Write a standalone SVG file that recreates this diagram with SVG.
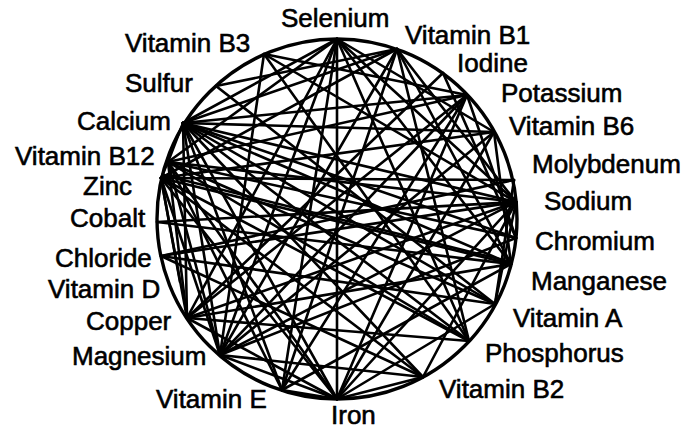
<svg xmlns="http://www.w3.org/2000/svg" width="686" height="430" viewBox="0 0 686 430">
<style>
.lbl{font-family:"Liberation Sans",Arial,sans-serif;font-size:26px;fill:#000;stroke:#000;stroke-width:0.6}
.c line{stroke:#000;stroke-width:2.6;stroke-linecap:round}
.ring{fill:none;stroke:#000;stroke-width:3.4}
</style>
<rect width="686" height="430" fill="#fff"/>
<circle class="ring" cx="337" cy="219" r="180"/>
<g id="connectors" class="c">
<line x1="337" y1="39" x2="337" y2="399"/>
<line x1="337" y1="39" x2="183" y2="123"/>
<line x1="337" y1="39" x2="168" y2="162"/>
<line x1="337" y1="39" x2="220" y2="355"/>
<line x1="337" y1="39" x2="282" y2="390"/>
<line x1="337" y1="39" x2="511" y2="264"/>
<line x1="337" y1="39" x2="516" y2="202"/>
<line x1="337" y1="39" x2="494" y2="132"/>
<line x1="337" y1="39" x2="469" y2="341"/>
<line x1="337" y1="39" x2="187" y2="318"/>
<line x1="397" y1="49" x2="183" y2="123"/>
<line x1="397" y1="49" x2="161" y2="178"/>
<line x1="397" y1="49" x2="511" y2="264"/>
<line x1="397" y1="49" x2="469" y2="341"/>
<line x1="397" y1="49" x2="220" y2="355"/>
<line x1="397" y1="49" x2="282" y2="390"/>
<line x1="397" y1="49" x2="516" y2="202"/>
<line x1="397" y1="49" x2="216" y2="86"/>
<line x1="443" y1="73" x2="187" y2="318"/>
<line x1="443" y1="73" x2="516" y2="238"/>
<line x1="467" y1="95" x2="183" y2="123"/>
<line x1="467" y1="95" x2="168" y2="162"/>
<line x1="467" y1="95" x2="187" y2="318"/>
<line x1="467" y1="95" x2="220" y2="355"/>
<line x1="467" y1="95" x2="337" y2="399"/>
<line x1="467" y1="95" x2="516" y2="238"/>
<line x1="467" y1="95" x2="264" y2="54"/>
<line x1="494" y1="132" x2="183" y2="123"/>
<line x1="494" y1="132" x2="161" y2="178"/>
<line x1="494" y1="132" x2="220" y2="355"/>
<line x1="494" y1="132" x2="511" y2="264"/>
<line x1="494" y1="132" x2="337" y2="399"/>
<line x1="514" y1="180" x2="161" y2="256"/>
<line x1="514" y1="180" x2="161" y2="178"/>
<line x1="514" y1="180" x2="495" y2="304"/>
<line x1="516" y1="202" x2="183" y2="123"/>
<line x1="516" y1="202" x2="168" y2="162"/>
<line x1="516" y1="202" x2="157" y2="222"/>
<line x1="516" y1="202" x2="161" y2="256"/>
<line x1="516" y1="202" x2="220" y2="355"/>
<line x1="516" y1="202" x2="264" y2="54"/>
<line x1="516" y1="202" x2="423" y2="377"/>
<line x1="516" y1="202" x2="187" y2="318"/>
<line x1="516" y1="238" x2="168" y2="162"/>
<line x1="516" y1="238" x2="183" y2="123"/>
<line x1="516" y1="238" x2="220" y2="355"/>
<line x1="511" y1="264" x2="161" y2="178"/>
<line x1="511" y1="262" x2="163" y2="175"/>
<line x1="511" y1="264" x2="183" y2="123"/>
<line x1="511" y1="264" x2="157" y2="222"/>
<line x1="511" y1="264" x2="187" y2="318"/>
<line x1="511" y1="264" x2="282" y2="390"/>
<line x1="495" y1="304" x2="183" y2="123"/>
<line x1="495" y1="304" x2="168" y2="162"/>
<line x1="495" y1="304" x2="161" y2="256"/>
<line x1="495" y1="304" x2="337" y2="399"/>
<line x1="495" y1="304" x2="516" y2="202"/>
<line x1="495" y1="304" x2="216" y2="86"/>
<line x1="469" y1="341" x2="183" y2="123"/>
<line x1="469" y1="341" x2="187" y2="318"/>
<line x1="469" y1="341" x2="168" y2="162"/>
<line x1="469" y1="341" x2="161" y2="178"/>
<line x1="469" y1="341" x2="264" y2="54"/>
<line x1="423" y1="377" x2="161" y2="178"/>
<line x1="423" y1="377" x2="183" y2="123"/>
<line x1="423" y1="377" x2="161" y2="256"/>
<line x1="423" y1="377" x2="220" y2="355"/>
<line x1="423" y1="377" x2="337" y2="399"/>
<line x1="337" y1="399" x2="183" y2="123"/>
<line x1="337" y1="399" x2="168" y2="162"/>
<line x1="337" y1="399" x2="161" y2="178"/>
<line x1="337" y1="399" x2="187" y2="318"/>
<line x1="337" y1="399" x2="220" y2="355"/>
<line x1="337" y1="399" x2="282" y2="390"/>
<line x1="337" y1="399" x2="516" y2="202"/>
<line x1="282" y1="390" x2="183" y2="123"/>
<line x1="282" y1="390" x2="168" y2="162"/>
<line x1="282" y1="390" x2="467" y2="95"/>
<line x1="220" y1="355" x2="183" y2="123"/>
<line x1="220" y1="355" x2="168" y2="162"/>
<line x1="220" y1="355" x2="161" y2="178"/>
<line x1="187" y1="318" x2="168" y2="162"/>
<line x1="187" y1="318" x2="183" y2="123"/>
<line x1="187" y1="318" x2="161" y2="178"/>
<line x1="180" y1="282" x2="161" y2="178"/>
<line x1="264" y1="54" x2="220" y2="355"/>
<line x1="183" y1="123" x2="168" y2="162"/>
<line x1="168" y1="162" x2="161" y2="178"/>
</g>
<g id="node-selenium"><text class="lbl" x="281" y="27">Selenium</text></g>
<g id="node-vitamin-b1"><text class="lbl" x="405" y="44">Vitamin B1</text></g>
<g id="node-iodine"><text class="lbl" x="457" y="72">Iodine</text></g>
<g id="node-potassium"><text class="lbl" x="501" y="102">Potassium</text></g>
<g id="node-vitamin-b6"><text class="lbl" x="509" y="135">Vitamin B6</text></g>
<g id="node-molybdenum"><text class="lbl" x="532" y="173">Molybdenum</text></g>
<g id="node-sodium"><text class="lbl" x="544" y="210">Sodium</text></g>
<g id="node-chromium"><text class="lbl" x="535" y="250">Chromium</text></g>
<g id="node-manganese"><text class="lbl" x="531" y="290">Manganese</text></g>
<g id="node-vitamin-a"><text class="lbl" x="513" y="327">Vitamin A</text></g>
<g id="node-phosphorus"><text class="lbl" x="485" y="362">Phosphorus</text></g>
<g id="node-vitamin-b2"><text class="lbl" x="439" y="398">Vitamin B2</text></g>
<g id="node-iron"><text class="lbl" x="331" y="424">Iron</text></g>
<g id="node-vitamin-e"><text class="lbl" x="156" y="408">Vitamin E</text></g>
<g id="node-magnesium"><text class="lbl" x="72" y="365">Magnesium</text></g>
<g id="node-copper"><text class="lbl" x="86" y="330">Copper</text></g>
<g id="node-vitamin-d"><text class="lbl" x="48" y="298">Vitamin D</text></g>
<g id="node-chloride"><text class="lbl" x="55" y="267">Chloride</text></g>
<g id="node-cobalt"><text class="lbl" x="70" y="227">Cobalt</text></g>
<g id="node-zinc"><text class="lbl" x="83" y="195">Zinc</text></g>
<g id="node-vitamin-b12"><text class="lbl" x="15" y="165">Vitamin B12</text></g>
<g id="node-calcium"><text class="lbl" x="77" y="130">Calcium</text></g>
<g id="node-sulfur"><text class="lbl" x="125" y="92">Sulfur</text></g>
<g id="node-vitamin-b3"><text class="lbl" x="125" y="52">Vitamin B3</text></g>
</svg>
